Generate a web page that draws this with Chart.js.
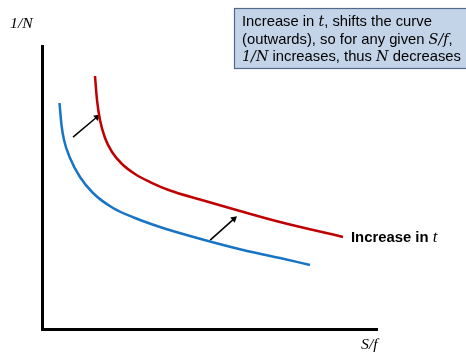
<!DOCTYPE html>
<html><head><meta charset="utf-8">
<script src="https://cdn.jsdelivr.net/npm/chart.js@4.4.0/dist/chart.umd.min.js"></script>
<style>html,body{margin:0;padding:0;background:#fff}#w{width:466px;height:352px}</style>
</head><body><div id="w"><canvas id="c"></canvas></div>
<script>
const blueX = [5.22, 5.82, 6.57, 8.36, 11.34, 15.22, 21.19, 27.76, 35.22, 44.18, 60.0, 71.04, 80.0];
const blueY = [79.86, 72.08, 66.78, 60.42, 53.71, 48.06, 42.76, 39.22, 36.04, 32.86, 27.92, 25.09, 22.61];
const redX = [15.82, 16.42, 17.31, 18.81, 20.90, 23.88, 27.76, 32.24, 38.21, 47.16, 59.10, 71.04, 89.85];
const redY = [89.40, 80.92, 73.85, 67.49, 62.54, 58.30, 54.77, 51.94, 48.94, 45.76, 41.70, 37.81, 32.51];
const arrow1X = [9.25, 16.4];
const arrow1Y = [67.8, 74.9];
const arrow2X = [50.2, 57.3];
const arrow2Y = [31.4, 38.9];
const seriesLabel = 'Increase in ';
const yAxisLabel = '1/N';
const xAxisLabel = 'S/f';

const pts = (xs, ys) => xs.map((x, i) => ({x, y: ys[i]}));

function runs(ctx, parts, x, y, sx, nFont, mFont) {
  ctx.save();
  ctx.translate(x, y);
  ctx.scale(sx, 1);
  let cx = 0;
  parts.forEach(([k, s]) => {
    ctx.font = k === 'n' ? nFont : mFont;
    ctx.fillText(s, cx, 0);
    cx += ctx.measureText(s).width;
  });
  ctx.restore();
}

const textPlugin = {
  id: 'texts',
  afterDraw(chart) {
    const ctx = chart.ctx;
    const xs = chart.scales.x, ys = chart.scales.y;
    ctx.save();
    ctx.fillStyle = '#000';
    ctx.textBaseline = 'alphabetic';
    ctx.textAlign = 'left';
    const mathF = 'italic 15px "Liberation Serif"';
    runs(ctx, [['m', yAxisLabel]], 10, 28, 1.05, mathF, mathF);
    runs(ctx, [['m', xAxisLabel]], 361, 349, 1.05, mathF, mathF);
    const lx = xs.getPixelForValue(redX[redX.length-1]) + 8;
    const ly = ys.getPixelForValue(redY[redY.length-1]) + 5;
    runs(ctx, [['n', seriesLabel], ['m', 't']], lx, ly, 1.06, 'bold 14px "Liberation Sans"', 'italic 16px "Liberation Serif"');
    ctx.fillStyle = '#c3d3e8';
    ctx.fillRect(234, 8, 240, 60);
    ctx.strokeStyle = '#4f6a8a';
    ctx.lineWidth = 1.2;
    ctx.strokeRect(234.5, 8.5, 240, 60);
    const lines = [
      [['n','Increase in '],['m','t'],['n',', shifts the curve']],
      [['n','(outwards), so for any given '],['m','S/f'],['n',',']],
      [['m','1/N'],['n',' increases, thus '],['m','N'],['n',' decreases']]
    ];
    const baseY = [26, 43.5, 61];
    ctx.fillStyle = '#000';
    lines.forEach((ln, i) => {
      runs(ctx, ln, 242, baseY[i], 1.02, '14.5px "Liberation Sans"', 'italic 14px "DejaVu Serif"');
    });
    ctx.restore();
  }
};

new Chart(document.getElementById('c'), {
  type: 'line',
  data: {
    datasets: [
      {data: pts(blueX, blueY), borderColor: '#1874c4', borderWidth: 2.5, pointRadius: 0, cubicInterpolationMode: 'monotone', fill: false},
      {data: pts(redX, redY), borderColor: '#c00000', borderWidth: 2.5, pointRadius: 0, cubicInterpolationMode: 'monotone', fill: false},
      {data: pts(arrow1X, arrow1Y), borderColor: '#000', borderWidth: 1.5, pointRadius: [0, 4], pointStyle: 'triangle', pointRotation: 50, pointBackgroundColor: '#000', pointBorderColor: '#000', pointBorderWidth: 0, fill: false},
      {data: pts(arrow2X, arrow2Y), borderColor: '#000', borderWidth: 1.5, pointRadius: [0, 4], pointStyle: 'triangle', pointRotation: 49, pointBackgroundColor: '#000', pointBorderColor: '#000', pointBorderWidth: 0, fill: false}
    ]
  },
  options: {
    responsive: true, maintainAspectRatio: false, animation: false,
    layout: {padding: {left: 42, top: 46, right: 89, bottom: 23}},
    plugins: {legend: {display: false}, tooltip: {enabled: false}},
    elements: {line: {borderCapStyle: 'butt'}},
    scales: {
      x: {type: 'linear', min: 0, max: 100, grid: {display: false}, ticks: {display: false}, border: {display: true, color: '#000', width: 3}, afterFit(s){ s.height = 0; }},
      y: {type: 'linear', min: 0, max: 100, grid: {display: false}, ticks: {display: false}, border: {display: true, color: '#000', width: 3}, afterFit(s){ s.width = 0; }}
    }
  },
  plugins: [textPlugin]
});
</script>
</body></html>
